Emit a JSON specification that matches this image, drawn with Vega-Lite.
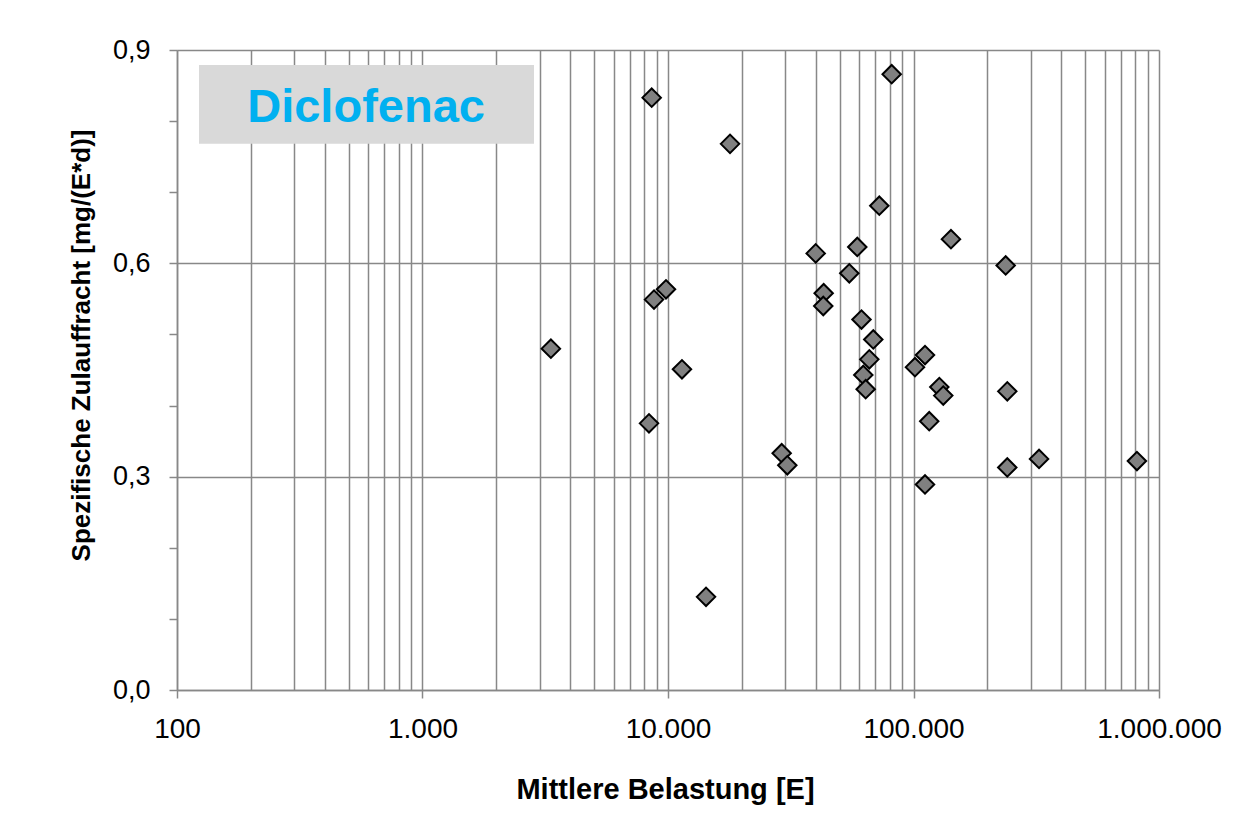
{
  "$schema": "https://vega.github.io/schema/vega-lite/v6.json",
  "width": 982,
  "height": 640,
  "autosize": "none",
  "padding": {"left": 177, "top": 50, "right": 91, "bottom": 143},
  "background": "white",
  "config": {
    "locale": {"number": {"decimal": ",", "thousands": ".", "grouping": [3], "currency": ["", " €"]}},
    "view": {"stroke": null},
    "font": "Liberation Sans",
    "axis": {
      "labelFont": "Liberation Sans",
      "labelFontSize": 27,
      "labelColor": "black",
      "titleFont": "Liberation Sans",
      "titleFontSize": 26,
      "titleFontWeight": "bold",
      "titleColor": "black",
      "gridColor": "#888888",
      "gridWidth": 1.5,
      "gridOpacity": 1,
      "tickColor": "#888888",
      "tickWidth": 1.5,
      "domainColor": "#888888",
      "domainWidth": 1.5
    }
  },
  "datasets": {
    "points": [
      {"E": 3334, "v": 0.480},
      {"E": 8582, "v": 0.833},
      {"E": 8367, "v": 0.375},
      {"E": 8770, "v": 0.549},
      {"E": 9814, "v": 0.5635},
      {"E": 11400, "v": 0.451},
      {"E": 14285, "v": 0.131},
      {"E": 17890, "v": 0.768},
      {"E": 29040, "v": 0.333},
      {"E": 30620, "v": 0.316},
      {"E": 39960, "v": 0.614},
      {"E": 43060, "v": 0.558},
      {"E": 42900, "v": 0.540},
      {"E": 54760, "v": 0.586},
      {"E": 59020, "v": 0.623},
      {"E": 61400, "v": 0.521},
      {"E": 68580, "v": 0.493},
      {"E": 66070, "v": 0.465},
      {"E": 62450, "v": 0.443},
      {"E": 63850, "v": 0.423},
      {"E": 72560, "v": 0.681},
      {"E": 81500, "v": 0.866},
      {"E": 101400, "v": 0.454},
      {"E": 111400, "v": 0.471},
      {"E": 127400, "v": 0.426},
      {"E": 132200, "v": 0.414},
      {"E": 115900, "v": 0.378},
      {"E": 111400, "v": 0.289},
      {"E": 142100, "v": 0.634},
      {"E": 237400, "v": 0.597},
      {"E": 241000, "v": 0.420},
      {"E": 241000, "v": 0.313},
      {"E": 324600, "v": 0.325},
      {"E": 813000, "v": 0.322}
    ],
    "label": [
      {"x1": 122.9, "x2": 2846, "y1": 0.768, "y2": 0.879, "xt": 589, "yt": 0.799, "name": "Diclofenac"}
    ]
  },
  "layer": [
    {
      "data": {"name": "label"},
      "mark": {"type": "rect", "color": "#D9D9D9"},
      "encoding": {
        "x": {
          "field": "x1", "type": "quantitative",
          "scale": {"type": "log", "domain": [100, 1000000]},
          "axis": {
            "orient": "bottom",
            "values": [100, 1000, 10000, 100000, 1000000],
            "format": ",",
            "grid": false, "domain": false, "ticks": true, "tickSize": 8,
            "labelFontSize": 28,
            "labelPadding": 17, "labelFlush": false, "labelOverlap": false,
            "title": null
          }
        },
        "x2": {"field": "x2"},
        "y": {
          "field": "y1", "type": "quantitative",
          "scale": {"domain": [0, 0.9], "zero": true, "nice": false},
          "axis": {
            "orient": "left",
            "values": [0.1, 0.2, 0.4, 0.5, 0.7, 0.8],
            "grid": false, "domain": false, "labels": false, "ticks": true, "tickSize": 8,
            "title": null
          }
        },
        "y2": {"field": "y2"}
      }
    },
    {
      "data": {"name": "label"},
      "mark": {"type": "text", "font": "Liberation Sans", "fontWeight": "bold", "fontSize": 47, "color": "#00B0F0", "align": "center", "baseline": "alphabetic"},
      "encoding": {
        "x": {"field": "xt", "type": "quantitative", "axis": null},
        "y": {"field": "yt", "type": "quantitative", "axis": null},
        "text": {"field": "name"}
      }
    },
    {
      "data": {"name": "points"},
      "mark": {"type": "point", "shape": "diamond", "filled": true, "fill": "#808080", "stroke": "black", "strokeWidth": 2, "size": 340, "opacity": 1},
      "encoding": {
        "x": {
          "field": "E", "type": "quantitative",
          "axis": {
            "orient": "bottom",
            "values": [100, 200, 300, 400, 500, 600, 700, 800, 900, 1000, 2000, 3000, 4000, 5000, 6000, 7000, 8000, 9000, 10000, 20000, 30000, 40000, 50000, 60000, 70000, 80000, 90000, 100000, 200000, 300000, 400000, 500000, 600000, 700000, 800000, 900000, 1000000],
            "grid": true, "labels": false, "ticks": false, "domain": true,
            "title": "Mittlere Belastung [E]",
            "titleFontSize": 29,
            "titleX": 488, "titleY": 108, "titleBaseline": "alphabetic", "titleAlign": "center"
          }
        },
        "y": {
          "field": "v", "type": "quantitative",
          "axis": {
            "orient": "left",
            "values": [0, 0.3, 0.6, 0.9],
            "format": ".1f",
            "grid": true, "ticks": true, "tickSize": 8, "domain": true,
            "labelPadding": 19, "labelFlush": false,
            "title": "Spezifische Zulauffracht [mg/(E*d)]",
            "titleX": -88, "titleY": 295, "titleAngle": 270, "titleBaseline": "alphabetic", "titleAlign": "center"
          }
        }
      }
    }
  ],
  "resolve": {"axis": {"x": "independent", "y": "independent"}}
}
